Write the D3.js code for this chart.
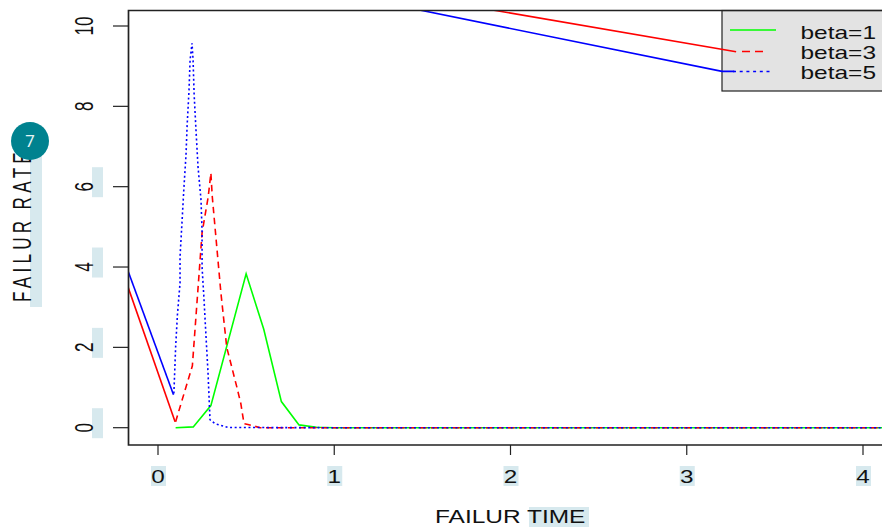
<!DOCTYPE html>
<html><head><meta charset="utf-8">
<script src="https://cdn.jsdelivr.net/npm/d3@7"></script>
<style>html,body{margin:0;padding:0;background:#fff}svg{display:block}</style>
</head><body><svg id="c" width="882" height="531"></svg>
<script>
const xTicks=[0,1,2,3,4];
const yTicks=[0,2,4,6,8,10];
const legendLabels=["beta=1","beta=3","beta=5"];
const xTitle="FAILUR TIME", yTitle="FAILUR RATE", badgeLabel="7";
const greenX=[0.1,0.2,0.3,0.5,0.6,0.7,0.8,0.9,1.0,4.2];
const greenY=[0,0.02,0.55,3.83,2.45,0.65,0.07,0.01,0,0];
const redX=[0.1,0.195,0.25,0.285,0.3,0.308,0.357,0.39,0.448,0.47,0.488,0.51,0.58,1.0,4.2];
const redY=[0.15,1.54,4.85,5.75,6.34,5.75,3.35,2.0,1.0,0.6,0.1,0.08,0,0,0];
const blueX=[0.09,0.1,0.11,0.125,0.125,0.136,0.147,0.159,0.165,0.176,0.182,0.193,0.199,0.205,0.215,0.227,0.244,0.25,0.25,0.261,0.272,0.284,0.295,0.323,0.397,1.0,4.2];
const blueY=[0.85,2.0,2.8,3.6,4.25,5.1,5.97,6.8,7.5,8.4,9.15,9.57,9.15,8.3,7.45,6.5,5.67,4.9,4.0,3.2,2.3,1.35,0.2,0.1,0.005,0,0];
const redSolidLowX=[-0.17,0.097];
const redSolidLowY=[3.5,0.15];
const blueSolidLowX=[-0.17,0.088];
const blueSolidLowY=[3.9,0.82];
const redSolidHighX=[1.87,3.28];
const redSolidHighY=[10.42,9.36];
const blueSolidHighX=[1.46,3.2,3.27];
const blueSolidHighY=[10.42,8.87,8.87];

const W=882,H=531;
const svg=d3.select("#c");
const x=d3.scaleLinear().domain([0,4]).range([158,863]);
const y=d3.scaleLinear().domain([0,10]).range([427.7,26]);
const left=128.5,top_=10.5,bottom=445;
const hl="#d7e9ee",ink="#111";
const font="'Liberation Sans',Arial,sans-serif";
const line=d3.line().x(d=>x(d[0])).y(d=>y(d[1]));
const zip=(a,b)=>a.map((v,i)=>[v,b[i]]);

const hlG=svg.append("g");
yTicks.filter(t=>t<=6).forEach(t=>hlG.append("rect").attr("x",92).attr("width",11)
  .attr("y",y(t)-19.5).attr("height",30).attr("fill",hl));
xTicks.forEach(t=>hlG.append("rect").attr("x",x(t)-7).attr("width",15)
  .attr("y",466).attr("height",20).attr("fill",hl));
hlG.append("rect").attr("x",529).attr("y",507).attr("width",60).attr("height",20).attr("fill",hl);
hlG.append("rect").attr("x",30).attr("y",155).attr("width",12).attr("height",152).attr("fill",hl);

svg.append("defs").append("clipPath").attr("id","plot").append("rect")
  .attr("x",left).attr("y",top_).attr("width",W-left+5).attr("height",bottom-top_);
svg.append("rect").attr("x",722).attr("y",top_).attr("width",W-722+5).attr("height",80.5)
  .attr("fill","#e3e3e3").attr("stroke","#222").attr("stroke-width",1.2);

const g=svg.append("g").attr("clip-path","url(#plot)").attr("fill","none").attr("stroke-width",1.6);
const series=[
 [zip(greenX,greenY),"#00ff00",null],
 [zip(redX,redY),"#ff0000","6.5 4.5"],
 [zip(blueX,blueY),"#0000ff","2 2.6"],
 [zip(redSolidLowX,redSolidLowY),"#ff0000",null],
 [zip(blueSolidLowX,blueSolidLowY),"#0000ff",null],
 [zip(redSolidHighX,redSolidHighY),"#ff0000",null],
 [zip(blueSolidHighX,blueSolidHighY),"#0000ff",null]
];
series.forEach(s=>g.append("path").attr("d",line(s[0])).attr("stroke",s[1])
  .attr("stroke-dasharray",s[2]));

const keyRows=[[730,776,30,"#00ff00",null],[742,763,51.5,"#ff0000","8 5"],[733,772,71.5,"#0000ff","3 3.7"]];
keyRows.forEach(k=>svg.append("line").attr("x1",k[0]).attr("x2",k[1]).attr("y1",k[2]).attr("y2",k[2])
  .attr("stroke",k[3]).attr("stroke-width",1.5).attr("stroke-dasharray",k[4]));
legendLabels.forEach((t,i)=>svg.append("text").text(t)
  .attr("transform",`translate(800.5,${39+i*20}) scale(1.36,1)`)
  .attr("font-family",font).attr("font-size",18).attr("fill",ink));

svg.append("path").attr("d",`M${W+5},${top_}H${left}V${bottom}H${W+5}`).attr("fill","none")
  .attr("stroke","#222").attr("stroke-width",1.7);
svg.selectAll(".xt").data(xTicks).join("line").attr("x1",d=>x(d)).attr("x2",d=>x(d))
  .attr("y1",bottom).attr("y2",455).attr("stroke","#222").attr("stroke-width",1.2);
svg.selectAll(".yt").data(yTicks).join("line").attr("y1",d=>y(d)).attr("y2",d=>y(d))
  .attr("x1",113).attr("x2",left).attr("stroke","#222").attr("stroke-width",1.2);
svg.selectAll(".xl").data(xTicks).join("text").text(d=>d)
  .attr("transform",d=>`translate(${x(d)},483) scale(1.35,1)`).attr("text-anchor","middle")
  .attr("font-family",font).attr("font-size",18).attr("fill",ink);
svg.selectAll(".yl").data(yTicks).join("text").text(d=>d)
  .attr("transform",d=>`translate(93,${y(d)}) rotate(-90) scale(0.95,1.45)`).attr("text-anchor","middle")
  .attr("font-family",font).attr("font-size",18).attr("fill",ink);
svg.append("text").text(xTitle).attr("transform","translate(435,523) scale(1.36,1)")
  .attr("font-family",font).attr("font-size",18).attr("fill",ink);
svg.append("text").text(yTitle).attr("transform","translate(30.5,302) rotate(-90) scale(0.95,1.42)")
  .attr("font-family",font).attr("font-size",18).attr("letter-spacing",4.5).attr("word-spacing",-2).attr("fill",ink);

svg.append("circle").attr("cx",30).attr("cy",141).attr("r",19).attr("fill","#00828f");
svg.append("text").text(badgeLabel).attr("x",30).attr("y",147).attr("text-anchor","middle")
  .attr("font-family","Roboto,sans-serif").attr("font-size",17).attr("fill","#e6f4f5");
</script></body></html>
